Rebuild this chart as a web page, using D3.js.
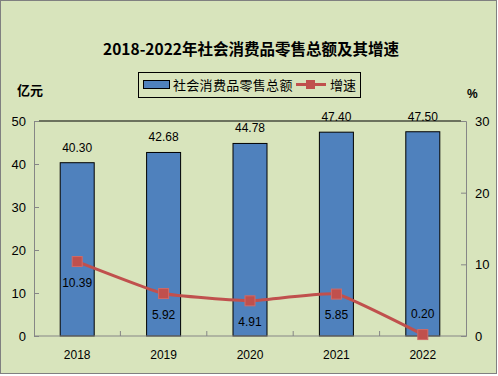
<!DOCTYPE html>
<html>
<head>
<meta charset="utf-8">
<script src="https://cdn.jsdelivr.net/npm/d3@7"></script>
<style>
  body { margin: 0; background: #fff; }
  text { font-family: "Liberation Sans", Arial, "Noto Sans CJK SC", sans-serif; }
</style>
</head>
<body>
<div id="chart"></div>
<script>
// 数据
const years = ['2018', '2019', '2020', '2021', '2022'];
const totals = [40.30, 42.68, 44.78, 47.40, 47.50];
const growth = [10.39, 5.92, 4.91, 5.85, 0.20];
const leftTicks = [0, 10, 20, 30, 40, 50];
const rightTicks = [0, 10, 20, 30];

const width = 498;
const height = 376;
const plot = { left: 34, right: 466, top: 121, bottom: 336 };
const barColor = '#4F81BD';
const lineColor = '#C0504D';
const bg = '#D8E4BC';
const cjk = '"Noto Sans CJK SC", "Liberation Sans", sans-serif';

const svg = d3.select('#chart').append('svg')
  .attr('width', width)
  .attr('height', height);

svg.append('rect')
  .attr('x', 0.5).attr('y', 0.5)
  .attr('width', width - 2).attr('height', height - 3)
  .attr('fill', bg)
  .attr('stroke', '#808080');

// 标题
svg.append('text')
  .attr('x', 251).attr('y', 55)
  .attr('text-anchor', 'middle')
  .attr('font-size', 15.5)
  .attr('font-weight', 'bold')
  .style('font-family', cjk)
  .text('2018-2022年社会消费品零售总额及其增速');

// 比例尺
const x = d3.scaleBand().domain(years).range([plot.left, plot.right]).paddingInner(0).paddingOuter(0);
const yL = d3.scaleLinear().domain([0, 50]).range([plot.bottom, plot.top]);
const yR = d3.scaleLinear().domain([0, 30]).range([plot.bottom, plot.top]);
const barW = 34;

// 顶部网格线
svg.append('line')
  .attr('x1', plot.left + 5).attr('x2', plot.right - 5)
  .attr('y1', yL(50)).attr('y2', yL(50))
  .attr('stroke', '#000').attr('stroke-width', 1);

// 柱子
svg.selectAll('.bar')
  .data(totals)
  .enter().append('rect')
  .attr('class', 'bar')
  .attr('x', (d, i) => x(years[i]) + x.bandwidth() / 2 - barW / 2)
  .attr('y', d => yL(d))
  .attr('width', barW)
  .attr('height', d => yL(0) - yL(d))
  .attr('fill', barColor)
  .attr('stroke', '#000')
  .attr('stroke-width', 1);

svg.selectAll('.barLabel')
  .data(totals)
  .enter().append('text')
  .attr('x', (d, i) => x(years[i]) + x.bandwidth() / 2)
  .attr('y', d => yL(d) - 11)
  .attr('text-anchor', 'middle')
  .attr('font-size', 12)
  .attr('fill', '#000')
  .text(d => d.toFixed(2));

// 左轴
const axisL = svg.append('g')
  .attr('transform', `translate(${plot.left},0)`)
  .call(d3.axisRight(yL).tickValues(leftTicks).tickSize(5).tickFormat(''));
axisL.select('.domain').attr('stroke', '#868686');
axisL.selectAll('.tick line').attr('stroke', '#868686');
svg.selectAll('.lt')
  .data(leftTicks)
  .enter().append('text')
  .attr('x', 26).attr('y', d => yL(d) + 5)
  .attr('text-anchor', 'end')
  .attr('font-size', 13)
  .text(d => d);

// 右轴
const axisR = svg.append('g')
  .attr('transform', `translate(${plot.right},0)`)
  .call(d3.axisLeft(yR).tickValues(rightTicks).tickSize(5).tickFormat(''));
axisR.select('.domain').attr('stroke', '#868686');
axisR.selectAll('.tick line').attr('stroke', '#868686');
svg.selectAll('.rt')
  .data(rightTicks)
  .enter().append('text')
  .attr('x', 475).attr('y', d => yR(d) + 5)
  .attr('text-anchor', 'start')
  .attr('font-size', 13)
  .text(d => d);

// 底轴
svg.append('line')
  .attr('x1', plot.left).attr('x2', plot.right)
  .attr('y1', plot.bottom).attr('y2', plot.bottom)
  .attr('stroke', '#868686');
svg.selectAll('.ct')
  .data(years.slice(1))
  .enter().append('line')
  .attr('x1', d => x(d)).attr('x2', d => x(d))
  .attr('y1', plot.bottom).attr('y2', plot.bottom - 5)
  .attr('stroke', '#868686');
svg.selectAll('.xl')
  .data(years)
  .enter().append('text')
  .attr('x', d => x(d) + x.bandwidth() / 2)
  .attr('y', 359)
  .attr('text-anchor', 'middle')
  .attr('font-size', 12)
  .text(d => d);

// 折线（轻微平滑）
const line = d3.line()
  .x((d, i) => x(years[i]) + x.bandwidth() / 2)
  .y(d => yR(d))
  .curve(d3.curveCardinal.tension(0.65));
svg.append('path')
  .datum(growth)
  .attr('d', line)
  .attr('fill', 'none')
  .attr('stroke', lineColor)
  .attr('stroke-width', 3);

svg.selectAll('.mk')
  .data(growth)
  .enter().append('rect')
  .attr('x', (d, i) => x(years[i]) + x.bandwidth() / 2 - 5)
  .attr('y', d => yR(d) - 5)
  .attr('width', 10).attr('height', 10)
  .attr('fill', lineColor)
  .attr('stroke', '#D06A67')
  .attr('stroke-width', 1);

svg.selectAll('.gl')
  .data(growth)
  .enter().append('text')
  .attr('x', (d, i) => x(years[i]) + x.bandwidth() / 2)
  .attr('y', (d, i) => i === growth.length - 1 ? yR(d) - 17 : yR(d) + 25)
  .attr('text-anchor', 'middle')
  .attr('font-size', 12)
  .text(d => d.toFixed(2));

// 单位
svg.append('text')
  .attr('x', 17).attr('y', 95)
  .attr('font-size', 13).attr('font-weight', 'bold')
  .style('font-family', cjk)
  .text('亿元');
svg.append('text')
  .attr('x', 467).attr('y', 98)
  .attr('font-size', 12).attr('font-weight', 'bold')
  .text('%');

// 图例
const legend = svg.append('g').attr('class', 'legend');
legend.append('rect')
  .attr('x', 138.5).attr('y', 72.5)
  .attr('width', 222).attr('height', 25)
  .attr('fill', bg)
  .attr('stroke', '#000');
legend.append('rect')
  .attr('x', 143.5).attr('y', 80.5)
  .attr('width', 26).attr('height', 8)
  .attr('fill', barColor)
  .attr('stroke', '#000');
legend.append('text')
  .attr('x', 173).attr('y', 90)
  .attr('font-size', 13)
  .attr('letter-spacing', 0.3)
  .style('font-family', cjk)
  .text('社会消费品零售总额');
legend.append('line')
  .attr('x1', 296).attr('x2', 326)
  .attr('y1', 84.5).attr('y2', 84.5)
  .attr('stroke', lineColor).attr('stroke-width', 3);
legend.append('rect')
  .attr('x', 306).attr('y', 80)
  .attr('width', 9).attr('height', 9)
  .attr('fill', lineColor);
legend.append('text')
  .attr('x', 330).attr('y', 90)
  .attr('font-size', 13)
  .style('font-family', cjk)
  .text('增速');
</script>
</body>
</html>
